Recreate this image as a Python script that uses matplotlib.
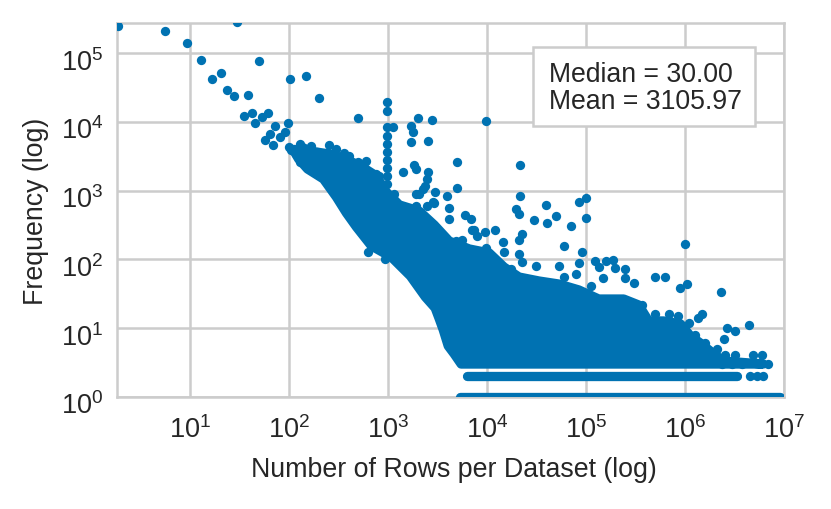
import matplotlib
matplotlib.use('Agg')
import matplotlib.pyplot as plt
from matplotlib.patches import Rectangle
from matplotlib.ticker import NullLocator
from matplotlib.transforms import ScaledTranslation

plt.rcParams['font.family'] = ['Liberation Sans', 'DejaVu Sans']
plt.rcParams['mathtext.fontset'] = 'custom'
plt.rcParams['mathtext.rm'] = 'Liberation Sans'
plt.rcParams['mathtext.it'] = 'Liberation Sans:italic'
plt.rcParams['mathtext.bf'] = 'Liberation Sans:bold'

# ---------------- data ----------------
# individual (rows per dataset, frequency) points outside the dense mass
pt_rows = [1.9, 5.6, 9.26, 12.8, 30, 49.9, 16.8, 20.4, 23.7, 27.7, 38.6, 102, 150, 200,
           35.0, 42.8, 53.4, 61.0, 45.8, 71.7, 97.6, 63.9, 56.9, 90.4, 69.0, 80.5, 112, 165,
           252, 300, 363, 408, 502,
           968, 968, 968, 968, 968, 968, 968, 968, 968, 968,
           1110, 601, 495, 578, 757, 757,
           1990, 2770, 9830, 1700, 1770, 1700, 2550, 4950, 21300, 1840, 1910, 1430, 2550,
           2500, 2230, 4950, 2990, 3980, 2810, 4140, 4080, 6000, 6950, 21500, 39500, 19400,
           21200, 29500, 49100, 40400, 84300, 98500, 98500, 69500, 22600, 21000, 59600,
           89800, 11900, 9540, 7400, 7980, 9830, 14300, 14800, 21000, 22600, 30900, 53000,
           84300, 124000, 78100, 59600, 111000, 1160, 1460, 1910, 1910, 818,
           991000, 157000, 187000, 136000, 197000, 249000, 147000, 249000, 302000, 491000,
           629000, 891000, 1040000, 2300000, 366000, 499000, 679000, 855000, 1360000,
           1470000, 1080000, 2620000, 3210000, 4400000, 2470000, 1260000, 1590000, 2080000,
           2530000, 3190000, 4870000, 5900000, 2370000, 2940000, 3710000, 6780000, 1930000,
           2930, 2500, 2070, 2380, 7110, 4840, 5640, 17300, 939, 624,
           4510000, 5260000, 6140000,
           100, 118, 130, 145, 190, 215, 240, 128, 105]
pt_freq = [252000, 213000, 140000, 80700, 283000, 76500, 42300, 51200, 29500, 23900, 24500,
           41800, 46200, 22400,
           12100, 13600, 11700, 13500, 9770, 8660, 9580, 6690, 5470, 7080, 4670, 5990, 4050,
           4520, 4670, 4050, 3500, 3230, 11400,
           19400, 14600, 8370, 6250, 4790, 3660, 2800, 2140, 1640, 1250,
           8370, 2730, 2590, 2190, 1750, 1180,
           11300, 10800, 10200, 8830, 7080, 5060, 5240, 2590, 2370, 2390, 2070, 1900, 1900,
           1480, 1060, 1110, 967, 829, 678, 554, 387, 443, 387, 829, 619, 541,
           458, 378, 424, 335, 678, 775, 405, 303, 234, 192, 155,
           127, 271, 253, 271, 221, 145, 177, 129, 120, 91, 81, 81,
           89, 96, 61, 55, 41, 895, 573, 895, 605, 1650,
           168, 96, 99, 77, 74, 72, 54, 53, 46, 55,
           55, 38, 44, 34, 22, 16, 16, 15, 14,
           16, 12, 10, 9, 11, 7, 8, 6, 5,
           4, 4, 4, 4, 3, 3, 3, 3, 4,
           662, 605, 895, 1180, 271, 187, 194, 73, 101, 129,
           2, 2, 2,
           4300, 3400, 2600, 3300, 3600, 2900, 3100, 4800, 3900]

# outline (centres of the outermost dots) of the solid cloud of points
mass_rows = [5470, 4660, 4050, 3610, 3290, 2990, 2380, 1680, 1080, 679, 480, 380, 301, 223,
             154, 125, 112, 140, 161, 256, 372, 551, 762, 940, 1300, 2060, 2930, 4140,
             6590, 10500, 14800, 21000, 33400, 53000, 84400, 134000, 239000, 339000,
             427000, 604000, 896000, 1130000, 1420000, 1840000, 2430000, 6140000]
mass_freq = [3, 4.2, 5.5, 9.4, 13.6, 19.6, 28.4, 57.3, 108, 157, 296, 474, 809, 1479,
             2070, 2900, 3800, 4200, 3790, 3420, 2900, 2210, 1640, 990, 621, 506, 317, 185,
             142, 124, 77.5, 55.4, 48.5, 43.8, 35.9, 26.5, 26.5, 21.7,
             12.7, 12.7, 11.5, 7.67, 6.07, 4.49, 3.32, 3]

# continuous rows of points at frequency 2 and 1
band_freq = [2, 1]
band_start = [6290, 5350]
band_end = [3320000, 9100000]

median_rows = 30.00
mean_rows = 3105.97

x_ticks = [1e1, 1e2, 1e3, 1e4, 1e5, 1e6, 1e7]
y_ticks = [1e0, 1e1, 1e2, 1e3, 1e4, 1e5]

# ---------------- style ----------------
BLUE = '#0072B2'
GRID = '#cccccc'
TEXT = '#262626'
DOT_LW = 6.7  # dot diameter in points

fig = plt.figure(figsize=(8.31, 5.10), dpi=100)
ax = fig.add_axes([0.1412, 0.22, 0.8026, 0.7329])
ax.set_xscale('log')
ax.set_yscale('log')
ax.set_xlim(1.85, 1e7)
ax.set_ylim(1, 2.76e5)
ax.set_xticks(x_ticks)
ax.set_yticks(y_ticks)
ax.xaxis.set_minor_locator(NullLocator())
ax.yaxis.set_minor_locator(NullLocator())
ax.set_axisbelow(True)
ax.grid(True, color=GRID, lw=1.8)
for s in ax.spines.values():
    s.set_color(GRID)
    s.set_linewidth(1.8)
ax.tick_params(which='both', length=0, labelsize=19.5, labelcolor=TEXT)
ax.tick_params(axis='x', pad=13)
ax.tick_params(axis='y', pad=10)

ax.fill(mass_rows, mass_freq, facecolor=BLUE, edgecolor=BLUE, lw=DOT_LW,
        joinstyle='round', zorder=3)
ax.hlines(band_freq, band_start, band_end, colors=BLUE, lw=DOT_LW,
          capstyle='round', zorder=3)
ax.scatter(pt_rows, pt_freq, s=45, c=BLUE, linewidths=0, zorder=3)

ax.set_xlabel('Number of Rows per Dataset (log)', fontsize=19.3, color=TEXT)
ax.set_ylabel('Frequency (log)', fontsize=19.3, color=TEXT)
ax.xaxis.set_label_coords(0.504, -0.158)
ax.yaxis.set_label_coords(-0.1028, 0.5)

ax.add_patch(Rectangle((0.6237, 0.725), 0.3323, 0.21, transform=ax.transAxes,
                       facecolor='white', edgecolor=GRID, lw=1.8, zorder=5))
ax.text(0.6477, 0.8457, f'Median = {median_rows:.2f}', transform=ax.transAxes,
        fontsize=19.2, color=TEXT, va='baseline', ha='left', zorder=6)
ax.text(0.6477, 0.7726, f'Mean = {mean_rows:.2f}', transform=ax.transAxes,
        fontsize=19.2, color=TEXT, va='baseline', ha='left', zorder=6)

# the reference's y tick labels sit a little below their grid lines
offset = ScaledTranslation(0, -4 / 72, fig.dpi_scale_trans)
for t in ax.yaxis.get_major_ticks():
    t.label1.set_transform(t.label1.get_transform() + offset)

fig.savefig('out.png', dpi=100)
